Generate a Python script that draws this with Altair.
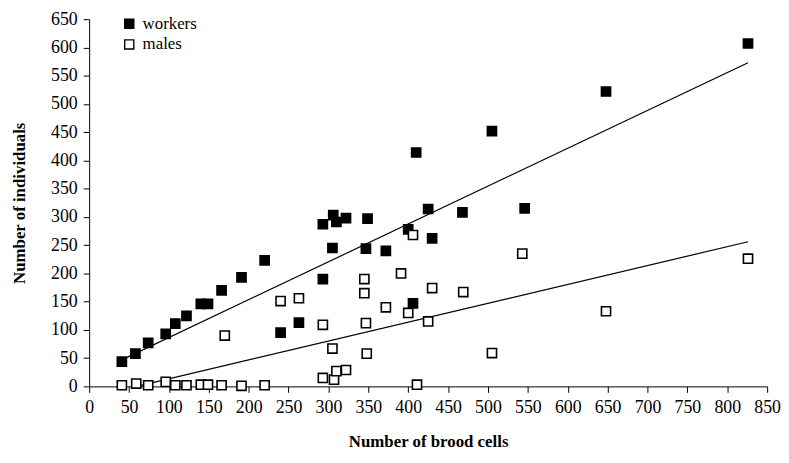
import altair as alt
import pandas as pd

# Workers (filled squares)
workers_x = [41, 58, 74, 96, 108, 122, 140, 149, 166, 191, 220, 240, 263, 293, 293, 305,
             306, 310, 322, 347, 349, 372, 400, 406, 410, 425, 430, 468, 505, 546, 648, 826]
workers_y = [44, 58, 77, 93, 111, 125, 146, 146, 170, 193, 223, 95, 113, 287, 190, 245,
             303, 291, 298, 244, 297, 240, 278, 147, 414, 314, 262, 308, 452, 315, 522, 607]

# Males (open squares)
males_x = [41, 59, 74, 96, 108, 122, 140, 149, 166, 191, 220, 170, 240, 263, 293, 293, 305, 307,
           310, 322, 345, 345, 347, 348, 372, 391, 400, 406, 411, 425, 430, 469, 505, 543, 648, 826]
males_y = [2, 5, 2, 8, 2, 2, 3, 3, 2, 1, 2, 90, 151, 156, 109, 15, 67, 12,
           27, 29, 190, 165, 112, 58, 140, 200, 130, 268, 3, 115, 174, 167, 59, 235, 133, 226]

# Trend lines (end points)
workers_fit_x = [41, 826]
workers_fit_y = [47, 573]
males_fit_x = [60, 826]
males_fit_y = [0, 256]

x_ticks = list(range(0, 851, 50))
y_ticks = list(range(0, 651, 50))

pts = pd.DataFrame({
    "cells": workers_x + males_x,
    "n": workers_y + males_y,
    "series": ["workers"] * len(workers_x) + ["males"] * len(males_x),
})
fits = pd.DataFrame({
    "cells": workers_fit_x + males_fit_x,
    "n": workers_fit_y + males_fit_y,
    "series": ["workers"] * 2 + ["males"] * 2,
})

FONT = "Liberation Serif"

xs = alt.Scale(domain=[0, 850], nice=False, zero=True)
ys = alt.Scale(domain=[0, 650], nice=False, zero=True)

x_axis = alt.Axis(values=x_ticks, title="Number of brood cells", grid=False,
                  domainColor="black", tickColor="black", tickSize=6,
                  labelFont=FONT, labelFontSize=18, labelColor="black", labelPadding=6,
                  labelFlush=False, labelOverlap=False,
                  titleFont=FONT, titleFontSize=17, titleFontWeight="bold", titleColor="black",
                  titlePadding=18)
y_axis = alt.Axis(values=y_ticks, title="Number of individuals", grid=False,
                  domainColor="black", tickColor="black", tickSize=6,
                  labelFont=FONT, labelFontSize=18, labelColor="black", labelPadding=6,
                  labelFlush=False, labelOverlap=False,
                  titleFont=FONT, titleFontSize=17, titleFontWeight="bold", titleColor="black",
                  titlePadding=22)

lines = alt.Chart(fits).mark_line(color="black", strokeWidth=1.2).encode(
    x=alt.X("cells:Q", scale=xs, axis=x_axis),
    y=alt.Y("n:Q", scale=ys, axis=y_axis),
    detail="series:N",
)

points = alt.Chart(pts).mark_point(shape="square", size=85, stroke="black",
                                   strokeWidth=1.6, opacity=1, fillOpacity=1).encode(
    x=alt.X("cells:Q", scale=xs, axis=x_axis),
    y=alt.Y("n:Q", scale=ys, axis=y_axis),
    fill=alt.Fill("series:N",
                  scale=alt.Scale(domain=["workers", "males"], range=["black", "white"]),
                  legend=alt.Legend(title=None, orient="none", legendX=32, legendY=-4,
                                    symbolType="square", symbolSize=85,
                                    symbolStrokeColor="black", symbolStrokeWidth=1.4,
                                    symbolOpacity=1,
                                    labelFont=FONT, labelFontSize=17, labelColor="black",
                                    rowPadding=3, labelOffset=5)),
)

chart = alt.layer(lines, points).properties(
    width=685, height=371,
    autosize=alt.AutoSizeParams(type="none"),
    padding={"left": 82, "top": 9, "right": 14, "bottom": 66},
    background="white",
).configure_view(stroke=None)

chart.save("out.html", embed_options={"renderer": "svg", "actions": False})
